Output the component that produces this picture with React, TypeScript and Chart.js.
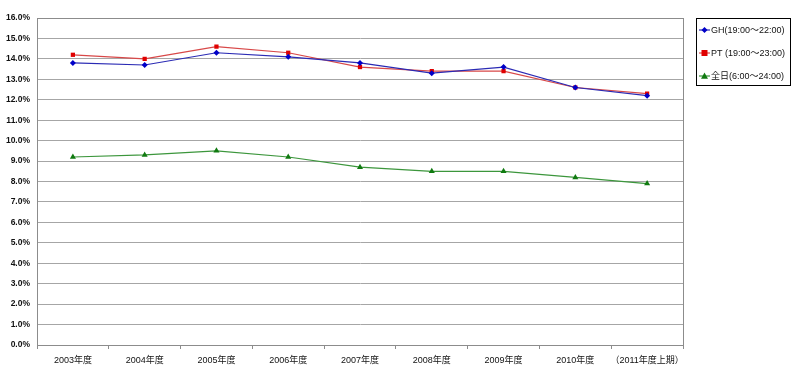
import React, { useEffect, useRef } from "react";
import { Chart, registerables } from "chart.js";

Chart.register(...registerables);

const categories = ["2003年度", "2004年度", "2005年度", "2006年度", "2007年度", "2008年度", "2009年度", "2010年度", "（2011年度上期）"];
const ghValues = [13.8, 13.7, 14.3, 14.1, 13.8, 13.3, 13.6, 12.6, 12.2];
const ptValues = [14.2, 14.0, 14.6, 14.3, 13.6, 13.4, 13.4, 12.6, 12.3];
const allDayValues = [9.2, 9.3, 9.5, 9.2, 8.7, 8.5, 8.5, 8.2, 7.9];
const seriesLabels = ["GH(19:00～22:00)", "PT (19:00～23:00)", "全日(6:00～24:00)"];
const yMin = 0;
const yMax = 16;
const yStep = 1;

const FONT = "'Liberation Sans', 'Noto Sans CJK JP', sans-serif";

function drawMarker(ctx: CanvasRenderingContext2D, style: string, x: number, y: number, r: number, color: string) {
  ctx.save();
  ctx.fillStyle = color;
  ctx.beginPath();
  if (style === "rectRot") {
    ctx.moveTo(x, y - r);
    ctx.lineTo(x + r, y);
    ctx.lineTo(x, y + r);
    ctx.lineTo(x - r, y);
  } else if (style === "rect") {
    ctx.rect(x - r, y - r, 2 * r, 2 * r);
  } else {
    ctx.moveTo(x, y - r);
    ctx.lineTo(x + r, y + r * 0.8);
    ctx.lineTo(x - r, y + r * 0.8);
  }
  ctx.closePath();
  ctx.fill();
  ctx.restore();
}

const frameAndLegend = {
  id: "frameAndLegend",
  afterDraw(chart: any) {
    const ctx = chart.ctx as CanvasRenderingContext2D;
    const a = chart.chartArea;
    ctx.save();
    ctx.strokeStyle = "#8c8c8c";
    ctx.lineWidth = 1;
    ctx.strokeRect(Math.round(a.left) + 0.5, Math.round(a.top) + 0.5, Math.round(a.right - a.left), Math.round(a.bottom - a.top));
    // legend box
    ctx.strokeStyle = "#000";
    ctx.strokeRect(696.5, 18.5, 94, 67);
    const rows = [30, 53, 76];
    chart.data.datasets.forEach((ds: any, i: number) => {
      const y = rows[i];
      ctx.strokeStyle = ds.borderColor;
      ctx.lineWidth = 1.2;
      ctx.beginPath();
      ctx.moveTo(699, y);
      ctx.lineTo(710, y);
      ctx.stroke();
      drawMarker(ctx, ds.pointStyle, 704.5, y, ds.pointRadius, ds.pointBackgroundColor);
      ctx.fillStyle = "#111";
      ctx.font = `9px ${FONT}`;
      ctx.textBaseline = "middle";
      ctx.textAlign = "left";
      ctx.fillText(ds.label, 711, y + 0.5);
    });
    ctx.restore();
  },
};

export default function App() {
  const ref = useRef<HTMLCanvasElement | null>(null);
  useEffect(() => {
    if (!ref.current) return;
    const chart = new Chart(ref.current, {
      type: "line",
      data: {
        labels: categories,
        datasets: [
          {
            label: seriesLabels[0],
            data: ghValues,
            borderColor: "#2a2ab4",
            backgroundColor: "#0000c8",
            pointBackgroundColor: "#0000c8",
            pointBorderWidth: 0,
            pointStyle: "rectRot",
            pointRadius: 3,
            borderWidth: 1.2,
          },
          {
            label: seriesLabels[1],
            data: ptValues,
            borderColor: "#d84848",
            backgroundColor: "#e00000",
            pointBackgroundColor: "#e00000",
            pointBorderWidth: 0,
            pointStyle: "rect",
            pointRadius: 3,
            borderWidth: 1.2,
          },
          {
            label: seriesLabels[2],
            data: allDayValues,
            borderColor: "#3c963c",
            backgroundColor: "#107a10",
            pointBackgroundColor: "#107a10",
            pointBorderWidth: 0,
            pointStyle: "triangle",
            pointRadius: 3.5,
            borderWidth: 1.2,
          },
        ] as any,
      },
      options: {
        animation: false,
        responsive: false,
        layout: { padding: { left: 0, top: 18, right: 117, bottom: 0 } },
        plugins: { legend: { display: false }, tooltip: { enabled: false } },
        scales: {
          x: {
            offset: true,
            grid: { offset: true, drawOnChartArea: false, tickLength: 4, color: "#8c8c8c" },
            border: { color: "#8c8c8c" },
            ticks: { color: "#111", font: { size: 9, family: FONT }, maxRotation: 0, autoSkip: false, padding: 6 },
            afterFit: (s: any) => { s.height = 25; },
          },
          y: {
            min: yMin,
            max: yMax,
            grid: { color: "#a6a6a6", drawTicks: false },
            border: { color: "#8c8c8c" },
            ticks: {
              stepSize: yStep,
              color: "#111",
              font: { size: 8.5, family: FONT, weight: "bold" },
              padding: 7,
              callback: (v: any) => Number(v).toFixed(1) + "%",
            },
            afterFit: (s: any) => { s.width = 37; },
          },
        },
      },
      plugins: [frameAndLegend],
    });
    return () => chart.destroy();
  }, []);
  return (
    <div style={{ position: "absolute", left: 0, top: 0, width: 800, height: 370, background: "#fff" }}>
      <canvas ref={ref} width={800} height={370} />
    </div>
  );
}
